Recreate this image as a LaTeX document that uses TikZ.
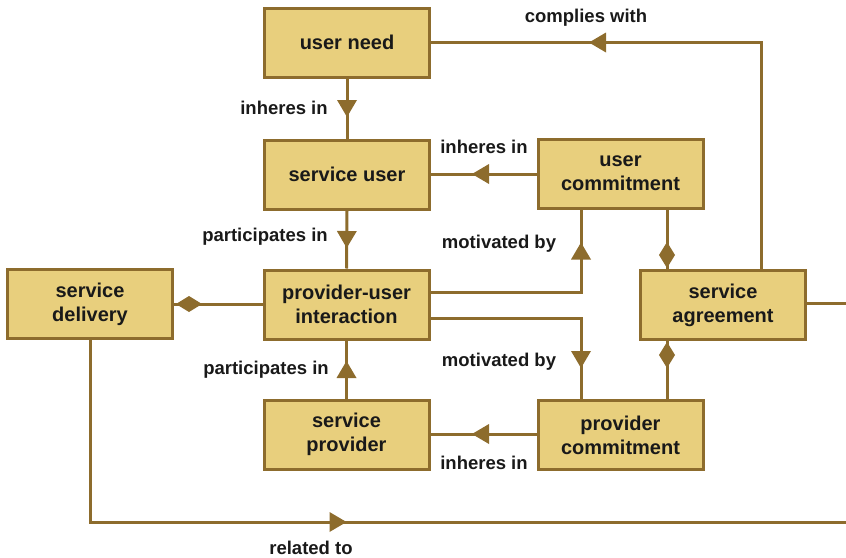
\documentclass[tikz,border=0pt]{standalone}
\usepackage{fontspec}
\setmainfont{Liberation Sans}
\usetikzlibrary{decorations.markings,calc}
\definecolor{boxfill}{RGB}{232,207,125}
\definecolor{boxline}{RGB}{141,108,45}
\definecolor{txt}{RGB}{25,25,25}
\tikzset{
  ent/.style={draw=boxline, fill=boxfill, line width=3pt, minimum width=165pt,
    minimum height=69pt, inner sep=0pt, align=center, text=txt,
    font=\bfseries\fontsize{20}{24}\selectfont},
  lbl/.style={inner sep=0pt, text=txt, font=\bfseries\fontsize{18.5}{22}\selectfont},
  conn/.style={draw=boxline, line width=3pt},
  tri/.style={postaction={decorate,decoration={markings,
    mark=at position #1 with {\fill[boxline] (-8.5,10) -- (8.5,0) -- (-8.5,-10) -- cycle;}}}},
  dia/.style={postaction={decorate,decoration={markings,
    mark=at position #1 with {\fill[boxline] (-13,0) -- (0,8) -- (13,0) -- (0,-8) -- cycle;}}}}
}
\begin{document}
\begin{tikzpicture}[x=1pt,y=-1pt]
\useasboundingbox (0,0) rectangle (846,557);
% entities
\node[ent] (need) at (347,42.5) {user need};
\node[ent] (su) at (347,174.5) {service user};
\node[ent] (uc) at (620.5,173.5) {user\\commitment};
\node[ent] (sd) at (90,304) {service\\delivery};
\node[ent] (pui) at (346.5,304.5) {provider-user\\interaction};
\node[ent] (sa) at (723,305) {service\\agreement};
\node[ent] (sp) at (346.5,434.5) {service\\provider};
\node[ent] (pc) at (620.5,435) {provider\\commitment};
% coordinates for the free ends at the picture edge
\coordinate (edgeA) at (846,303);
\coordinate (edgeB) at (846,522);
% connectors
\draw[conn, tri=390pt] (761,0 |- sa.north) |- (need.east);
\draw[conn, tri=0.5] (need.south) -- (su.north);
\draw[conn, tri=56pt] (uc.west |- 0,174) -- (su.east |- 0,174);
\draw[conn, tri=0.5] (su.south) -- (pui.north);
\draw[conn, tri=191.5pt] (pui.east |- 0,292) -| (581,0 |- uc.south);
\draw[conn, tri=192pt] (pui.east |- 0,318) -| (581,0 |- pc.north);
\draw[conn, dia=14pt] (667,0 |- sa.north) -- (667,0 |- uc.south);
\draw[conn, dia=14pt] (667,0 |- sa.south) -- (667,0 |- pc.north);
\draw[conn, tri=56pt] (pc.west |- 0,434) -- (sp.east |- 0,434);
\draw[conn, tri=0.5] (sp.north) -- (pui.south);
\draw[conn, dia=15pt] (sd.east) -- (pui.west |- sd.east);
\draw[conn, tri=430pt] (sd.south) |- (edgeB);
\draw[conn] (sa.east |- edgeA) -- (edgeA);
% labels
\node[lbl] (l1) at (586,17.5) {complies with};
\node[lbl] (l2) at (284,107.5) {inheres in};
\node[lbl] (l3) at (484,146.5) {inheres in};
\node[lbl] (l4) at (265,236.5) {participates in};
\node[lbl] (l5) at (499,243.5) {motivated by};
\node[lbl] (l6) at (499,361.5) {motivated by};
\node[lbl] (l7) at (266,369.5) {participates in};
\node[lbl] (l8) at (484,462.5) {inheres in};
\node[lbl] (l9) at (311,548) {related to};
\end{tikzpicture}
\end{document}
